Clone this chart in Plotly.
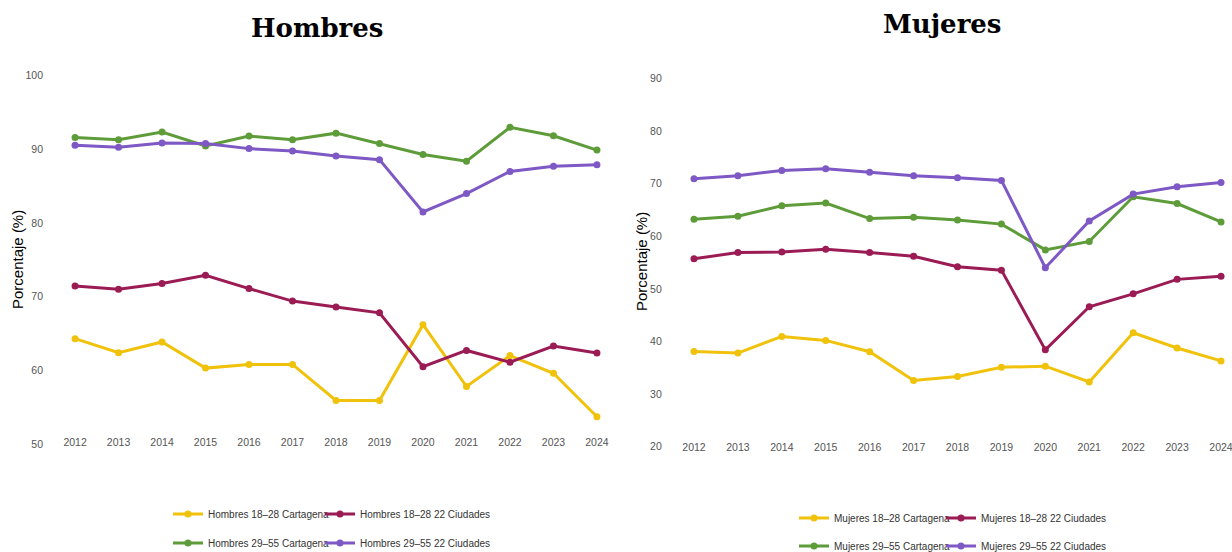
import plotly.graph_objects as go

years = list(range(2012, 2025))
tick_years = [str(y) for y in years]

h_1828_cart = [64.3, 62.4, 63.85, 60.3, 60.8, 60.8, 55.9, 55.9, 66.2, 57.8, 62.0, 59.6, 53.7]
h_1828_22 = [71.45, 71.0, 71.8, 72.9, 71.1, 69.4, 68.6, 67.8, 60.5, 62.7, 61.1, 63.3, 62.35]
h_2955_cart = [91.6, 91.3, 92.35, 90.45, 91.8, 91.3, 92.2, 90.8, 89.3, 88.4, 93.0, 91.85, 89.9]
h_2955_22 = [90.55, 90.3, 90.85, 90.8, 90.1, 89.77, 89.1, 88.6, 81.5, 84.0, 87.0, 87.7, 87.9]

m_1828_cart = [38.1, 37.8, 40.95, 40.2, 38.05, 32.6, 33.35, 35.1, 35.3, 32.3, 41.65, 38.75, 36.3]
m_1828_22 = [55.7, 56.9, 57.0, 57.5, 56.9, 56.2, 54.2, 53.55, 38.4, 46.6, 49.05, 51.8, 52.4]
m_2955_cart = [63.2, 63.8, 65.8, 66.3, 63.35, 63.6, 63.1, 62.3, 57.4, 59.0, 67.5, 66.2, 62.7]
m_2955_22 = [70.9, 71.5, 72.5, 72.8, 72.15, 71.5, 71.1, 70.6, 54.0, 62.9, 68.0, 69.4, 70.2]

h_ticks = [50, 60, 70, 80, 90, 100]
m_ticks = [20, 30, 40, 50, 60, 70, 80, 90]

YELLOW = "#F0C20C"
MAROON = "#9B1B55"
GREEN = "#5E9C3A"
PURPLE = "#7E58C4"

W, H = 1232, 552
SANS = "Liberation Sans, Arial, sans-serif"
TICKFONT = dict(family=SANS, size=10.5, color="#555555")
LEGFONT = dict(family=SANS, size=10, color="#333333")

fig = go.Figure()

def add(xax, yax, y, name, color, legend):
    fig.add_trace(go.Scatter(
        x=years, y=y, name=name, mode="lines+markers",
        line=dict(color=color, width=3),
        marker=dict(color=color, size=7),
        xaxis=xax, yaxis=yax, legend=legend,
    ))

add("x", "y", h_1828_cart, "Hombres 18–28 Cartagena", YELLOW, "legend")
add("x", "y", h_1828_22, "Hombres 18–28 22 Ciudades", MAROON, "legend2")
add("x", "y", h_2955_cart, "Hombres 29–55 Cartagena", GREEN, "legend3")
add("x", "y", h_2955_22, "Hombres 29–55 22 Ciudades", PURPLE, "legend4")

add("x2", "y2", m_1828_cart, "Mujeres 18–28 Cartagena", YELLOW, "legend5")
add("x2", "y2", m_1828_22, "Mujeres 18–28 22 Ciudades", MAROON, "legend6")
add("x2", "y2", m_2955_cart, "Mujeres 29–55 Cartagena", GREEN, "legend7")
add("x2", "y2", m_2955_22, "Mujeres 29–55 22 Ciudades", PURPLE, "legend8")

def px_x(p):
    return p / W

def px_y(p):
    return (H - p) / H

axis_common = dict(showgrid=False, zeroline=False, showline=False, ticks="", tickfont=TICKFONT,
                   ticklabeloverflow="allow")

def leg(xpx, ypx):
    return dict(orientation="h", x=px_x(xpx), y=px_y(ypx), xanchor="left", yanchor="middle",
                font=LEGFONT, bgcolor="rgba(0,0,0,0)", itemclick=False)

fig.update_layout(
    template="none",
    width=W, height=H,
    margin=dict(l=0, r=0, t=0, b=0, autoexpand=False),
    paper_bgcolor="white", plot_bgcolor="white",
    xaxis=dict(domain=[px_x(62), px_x(610)], range=[2011.7, 2024.3], tickvals=years, ticktext=tick_years,
               anchor="free", position=px_y(434), automargin=False, **axis_common),
    yaxis=dict(domain=[px_y(458.7), px_y(64.65)], range=[48, 101.5], tickvals=h_ticks,
               anchor="x", ticklabelstandoff=18, automargin=False, **axis_common),
    xaxis2=dict(domain=[px_x(680.8), 1.0], range=[2011.7, 2024.25], tickvals=years, ticktext=tick_years,
                anchor="free", position=px_y(439), automargin=False, **axis_common),
    yaxis2=dict(domain=[px_y(454.6), px_y(67.8)], range=[18.5, 92], tickvals=m_ticks,
                anchor="x2", ticklabelstandoff=18, automargin=False, **axis_common),
    legend=leg(168, 514),
    legend2=leg(320, 514),
    legend3=leg(168, 543),
    legend4=leg(320, 543),
    legend5=leg(794, 518),
    legend6=leg(941, 518),
    legend7=leg(794, 546),
    legend8=leg(941, 546),
    showlegend=True,
)

TITLEFONT = dict(family="DejaVu Serif, Liberation Serif, serif", size=26, color="black")
YTFONT = dict(family="Liberation Sans, Arial, sans-serif", size=15, color="black")
fig.add_annotation(text="<b>Hombres</b>", x=px_x(317), y=px_y(28), xref="paper", yref="paper",
                   showarrow=False, font=TITLEFONT, xanchor="center", yanchor="middle")
fig.add_annotation(text="<b>Mujeres</b>", x=px_x(942), y=px_y(24), xref="paper", yref="paper",
                   showarrow=False, font=TITLEFONT, xanchor="center", yanchor="middle")
fig.add_annotation(text="Porcentaje (%)", x=px_x(17), y=px_y(260), xref="paper", yref="paper",
                   showarrow=False, font=YTFONT, textangle=-90, xanchor="center", yanchor="middle")
fig.add_annotation(text="Porcentaje (%)", x=px_x(641), y=px_y(262), xref="paper", yref="paper",
                   showarrow=False, font=YTFONT, textangle=-90, xanchor="center", yanchor="middle")

fig.write_html(
    "out.html",
    config={"displayModeBar": False},
    post_script=(
        "document.documentElement.style.margin='0';"
        "document.documentElement.style.overflow='hidden';"
        "document.body.style.margin='0';"
        "document.body.style.overflow='hidden';"
    ),
)
